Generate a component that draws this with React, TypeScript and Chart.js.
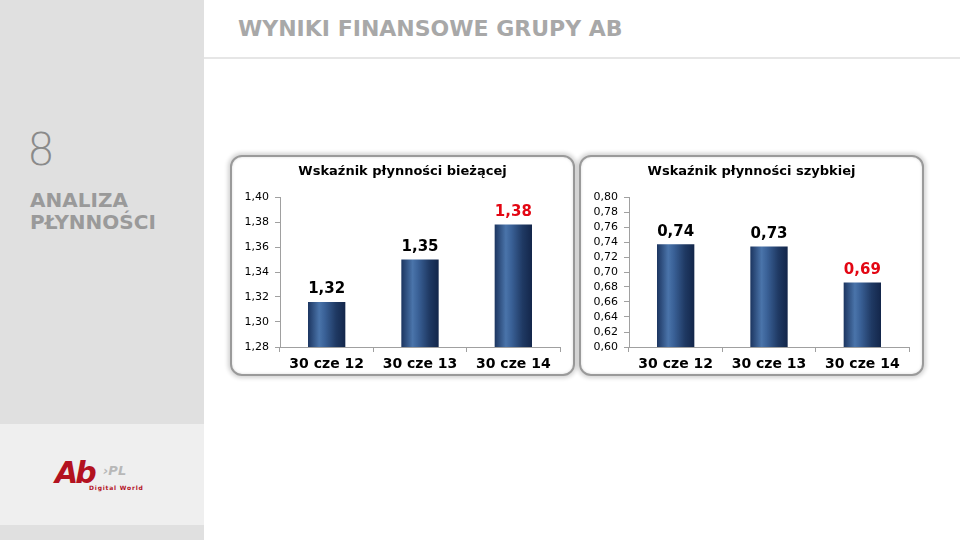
import React, { useEffect, useRef } from "react";
import { Chart, registerables } from "chart.js";

Chart.register(...registerables);

// ---- data ----
const categories = ["30 cze 12", "30 cze 13", "30 cze 14"];
const currentRatio = [1.316, 1.35, 1.378];
const quickRatio = [0.737, 0.734, 0.686];
const currentTitle = "Wskaźnik płynności bieżącej";
const quickTitle = "Wskaźnik płynności szybkiej";
const currentAxis = { min: 1.28, max: 1.4, step: 0.02 };
const quickAxis = { min: 0.6, max: 0.8, step: 0.02 };
const labelColors = ["#000000", "#000000", "#e30613"];

const FONT = "'DejaVu Sans', Verdana, sans-serif";
const fmt = (v: number) => v.toFixed(2).replace(".", ",");

const valueLabels = {
  id: "valueLabels",
  afterDatasetsDraw(chart: any) {
    const ctx = chart.ctx;
    const meta = chart.getDatasetMeta(0);
    const data = chart.data.datasets[0].data as number[];
    ctx.save();
    ctx.font = `bold 15px ${FONT}`;
    ctx.textAlign = "center";
    ctx.textBaseline = "bottom";
    meta.data.forEach((el: any, i: number) => {
      ctx.fillStyle = labelColors[i];
      ctx.fillText(fmt(data[i]), el.x, el.y - 5);
    });
    ctx.restore();
  },
};

function barGradient(c: any) {
  const chart = c.chart;
  const xs = chart.scales?.x;
  if (!xs || c.type !== "data" || !chart.chartArea) return "#2a4a7a";
  const n = chart.data.labels.length;
  const cx = xs.getPixelForValue(c.dataIndex);
  const w = (xs.width / n) * 0.4;
  const g = chart.ctx.createLinearGradient(cx - w / 2, 0, cx + w / 2, 0);
  g.addColorStop(0, "#1c3560");
  g.addColorStop(0.3, "#4a74aa");
  g.addColorStop(0.45, "#3a6197");
  g.addColorStop(0.75, "#1f3963");
  g.addColorStop(1, "#13264a");
  return g;
}

function BarChart({ values, axis }: { values: number[]; axis: { min: number; max: number; step: number } }) {
  const ref = useRef<HTMLCanvasElement>(null);
  useEffect(() => {
    const chart = new Chart(ref.current!, {
      type: "bar",
      data: {
        labels: categories,
        datasets: [
          {
            data: values,
            backgroundColor: barGradient as any,
            barPercentage: 0.4,
            categoryPercentage: 1,
          },
        ],
      },
      options: {
        animation: false,
        responsive: false,
        devicePixelRatio: 1,
        layout: { padding: { top: 42, right: 15, left: 0, bottom: 0 } },
        plugins: { legend: { display: false }, tooltip: { enabled: false }, title: { display: false } },
        scales: {
          x: {
            grid: { drawOnChartArea: false, tickLength: 5, color: "#a0a0a0" },
            border: { color: "#a0a0a0" },
            ticks: { font: { family: FONT, size: 14, weight: "bold" }, color: "#000", padding: 4 },
            afterFit: (s: any) => {
              s.height = 30;
            },
          },
          y: {
            min: axis.min,
            max: axis.max,
            grid: { drawOnChartArea: false, tickLength: 5, color: "#a0a0a0" },
            border: { color: "#a0a0a0" },
            ticks: {
              stepSize: axis.step,
              autoSkip: false,
              font: { family: FONT, size: 11 },
              color: "#000",
              padding: 6,
              callback: (v: any) => fmt(Number(v)),
            },
            afterFit: (s: any) => {
              s.width = 50;
            },
          },
        },
      },
      plugins: [valueLabels],
    });
    return () => chart.destroy();
  }, [values, axis]);
  return <canvas ref={ref} width={345} height={222} style={{ position: "absolute", left: 0, top: 0 }} />;
}

function ChartBox({ left, title, values, axis }: any) {
  return (
    <div
      style={{
        position: "absolute",
        left,
        top: 155,
        width: 345,
        height: 221,
        borderRadius: 12,
        border: "2px solid #9a9a9a",
        boxSizing: "border-box",
        background: "#fff",
        boxShadow: "0 0 4px 2px rgba(0,0,0,0.18), inset 0 0 3px rgba(0,0,0,0.15)",
      }}
    >
      <div style={{ position: "absolute", left: -2, top: -2, width: 345, height: 222 }}>
        <BarChart values={values} axis={axis} />
      </div>
      <div
        style={{
          position: "absolute",
          left: 0,
          right: 0,
          top: 6,
          textAlign: "center",
          font: `bold 13px ${FONT}`,
          color: "#000",
        }}
      >
        {title}
      </div>
    </div>
  );
}

export default function App() {
  return (
    <div style={{ position: "fixed", left: 0, top: 0, width: 960, height: 540, background: "#fff", overflow: "hidden", fontFamily: FONT }}>
      <div style={{ position: "absolute", left: 0, top: 0, width: 204, height: 540, background: "#e0e0e0" }} />
      <div style={{ position: "absolute", left: 0, top: 424, width: 204, height: 101, background: "#efefef" }} />
      <div style={{ position: "absolute", left: 204, top: 57, width: 756, height: 2, background: "#e6e6e6" }} />
      <div style={{ position: "absolute", left: 238, top: 16, font: `bold 22px ${FONT}`, color: "#a8a8a8" }}>
        WYNIKI FINANSOWE GRUPY AB
      </div>
      <div style={{ position: "absolute", left: 27, top: 124, font: `200 44px ${FONT}`, color: "#8a8a8a" }}>8</div>
      <div style={{ position: "absolute", left: 30, top: 189, font: `bold 20px ${FONT}`, color: "#9a9a9a", lineHeight: "22px" }}>
        ANALIZA
        <br />
        PŁYNNOŚCI
      </div>
      <div style={{ position: "absolute", left: 53, top: 455, width: 100, height: 40 }}>
        <div style={{ position: "absolute", left: 2, top: 0, font: `italic bold 30px ${FONT}`, color: "#b3121f", letterSpacing: -3 }}>Ab</div>
        <div style={{ position: "absolute", left: 50, top: 8, font: `italic bold 13px ${FONT}`, color: "#b8b8b8" }}>›PL</div>
        <div style={{ position: "absolute", left: 36, top: 29, font: `bold 6px ${FONT}`, color: "#b3121f", letterSpacing: 0.8 }}>Digital World</div>
      </div>
      <ChartBox left={230} title={currentTitle} values={currentRatio} axis={currentAxis} />
      <ChartBox left={579} title={quickTitle} values={quickRatio} axis={quickAxis} />
    </div>
  );
}
